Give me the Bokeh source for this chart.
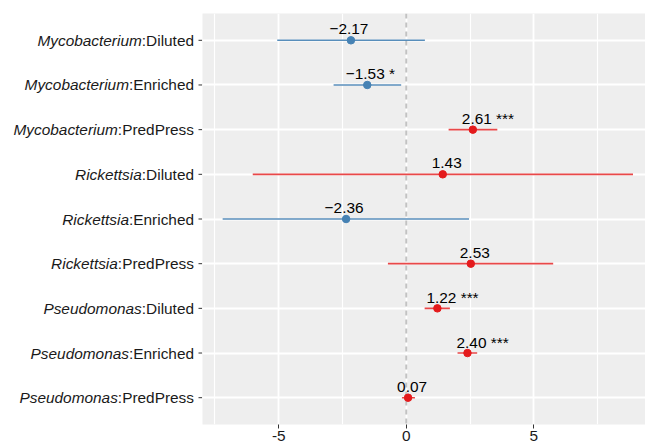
from bokeh.plotting import figure
from bokeh.layouts import row
from bokeh.models import Range1d, FixedTicker, Span, Label, ColumnDataSource, Grid
from bokeh.core.properties import value
from bokeh.embed import file_html
from bokeh.resources import INLINE

# ---- data ----
genus = ["Mycobacterium", "Mycobacterium", "Mycobacterium",
         "Rickettsia", "Rickettsia", "Rickettsia",
         "Pseudomonas", "Pseudomonas", "Pseudomonas"]
treatment = ["Diluted", "Enriched", "PredPress"] * 3
estimate = [-2.17, -1.53, 2.61, 1.43, -2.36, 2.53, 1.22, 2.40, 0.07]
lower = [-5.06, -2.85, 1.66, -6.02, -7.20, -0.72, 0.72, 2.01, -0.17]
upper = [0.73, -0.20, 3.57, 8.89, 2.46, 5.76, 1.71, 2.78, 0.34]
stars = ["", "*", "***", "", "", "", "***", "***", ""]
x_ticks = [-5, 0, 5]
x_minor = [-7.5, -2.5, 2.5, 7.5]
x_tick_labels = ["-5", "0", "5"]

RED = "#E41A1C"
BLUE = "#4682B4"
FONT = "Liberation Sans"
FS = 15.4
LEFT_W = 202
MAIN_W = 443
H = 443

# Arial/Helvetica advance widths (per 1000 em) for label layout
W = {':': 278, 'D': 722, 'i': 222, 'l': 222, 'u': 556, 't': 278, 'e': 556,
     'd': 556, 'E': 667, 'n': 556, 'r': 333, 'c': 500, 'h': 556, 'P': 667,
     's': 500, '0': 556, '1': 556, '2': 556, '3': 556, '4': 556, '5': 556,
     '6': 556, '7': 556, '8': 556, '9': 556, '.': 278, '\u2212': 584,
     ' ': 278, '*': 389}


def tw(s, size=FS):
    return sum(W.get(c, 556) for c in s) * size / 1000.0


n = len(estimate)
ypos = [n - i for i in range(n)]
colors = [RED if e > 0 else BLUE for e in estimate]
line_alpha = [0.8 if e > 0 else 0.9 for e in estimate]

src = ColumnDataSource(dict(est=estimate, lo=lower, hi=upper, y=ypos,
                            color=colors, la=line_alpha))

yr = Range1d(0.4, n + 0.6)
XMIN, XMAX = -7.99, 9.38


def style_xaxis(ax, hidden=False):
    ax.major_label_text_font = FONT
    ax.major_label_text_font_size = f"{FS}px"
    ax.major_label_text_color = "#1A1A1A"
    ax.major_label_standoff = 2
    ax.axis_line_color = None
    ax.major_tick_line_color = "#333333"
    ax.major_tick_out = 4
    ax.major_tick_in = 0
    ax.minor_tick_line_color = None
    if hidden:
        ax.major_label_text_alpha = 0
        ax.major_tick_line_alpha = 0


# ---- main panel ----
p = figure(width=MAIN_W, height=H,
           x_range=Range1d(XMIN, XMAX), y_range=yr,
           y_axis_location=None,
           output_backend="svg", toolbar_location=None,
           min_border_left=0, min_border_right=0,
           min_border_top=13, min_border_bottom=10)
p.background_fill_color = "#EEEEEE"
p.border_fill_color = "white"
p.outline_line_color = None

p.xgrid.ticker = FixedTicker(ticks=x_ticks, minor_ticks=x_minor)
p.xgrid.grid_line_color = "white"
p.xgrid.grid_line_width = 1.8
p.xgrid.minor_grid_line_color = "white"
p.xgrid.minor_grid_line_width = 1.2
p.add_layout(Grid(dimension=1, ticker=FixedTicker(ticks=ypos),
                  grid_line_color="white", grid_line_width=1.8))

p.xaxis.ticker = FixedTicker(ticks=x_ticks)
p.xaxis.major_label_overrides = {t: l for t, l in zip(x_ticks, x_tick_labels)}
style_xaxis(p.xaxis[0])

zero = Span(location=0, dimension="height", line_color="#C2C2C2",
            line_width=2, line_dash="5 4", level="underlay")
p.add_layout(zero)

p.segment(x0="lo", y0="y", x1="hi", y1="y", line_color="color",
          line_alpha="la", line_width=1.6, source=src)
p.scatter(x="est", y="y", size=7.5, fill_color="color", line_color="color",
          source=src)

for e, yv, st in zip(estimate, ypos, stars):
    num = ("\u2212" if e < 0 else "") + f"{abs(e):.2f}"
    shift = 4 if e > 0 else -2
    txt = num + ((" " + st) if st else "")
    p.add_layout(Label(x=e, y=yv, x_offset=shift - tw(num) / 2.0, y_offset=11,
                       text=txt, text_align="left", text_baseline="alphabetic",
                       text_font=FONT, text_font_size=f"{FS}px",
                       text_color="black"))

# ---- left strip with y tick labels ----
left = figure(width=LEFT_W, height=H, x_range=Range1d(0, LEFT_W), y_range=yr,
              y_axis_location=None,
              output_backend="svg", toolbar_location=None,
              min_border_left=0, min_border_right=0,
              min_border_top=13, min_border_bottom=10)
left.background_fill_color = "white"
left.border_fill_color = "white"
left.outline_line_color = None
left.grid.visible = False
left.xaxis.ticker = FixedTicker(ticks=[100])
left.xaxis.major_label_overrides = {100: "0"}
style_xaxis(left.xaxis[0], hidden=True)

tails = [":" + t for t in treatment]
RIGHT_EDGE = LEFT_W - 8.5
lab_src = ColumnDataSource(dict(
    y=ypos,
    tail=tails,
    genus=genus,
    xt=[RIGHT_EDGE] * n,
    xg=[RIGHT_EDGE - tw(t) for t in tails],
    t0=[LEFT_W - 4] * n,
    t1=[LEFT_W] * n,
))
left.text(x="xt", y="y", text="tail", source=lab_src, text_align="right",
          text_baseline="middle", text_font=value(FONT),
          text_font_size=f"{FS}px", text_color="#1A1A1A")
left.text(x="xg", y="y", text="genus", source=lab_src, text_align="right",
          text_baseline="middle", text_font=value(FONT),
          text_font_size=f"{FS}px", text_font_style="italic",
          text_color="#1A1A1A")
left.segment(x0="t0", y0="y", x1="t1", y1="y", line_color="#333333",
             line_width=1, source=lab_src)

layout = row(left, p, spacing=0)
open("out.html", "w").write(file_html(layout, INLINE))
